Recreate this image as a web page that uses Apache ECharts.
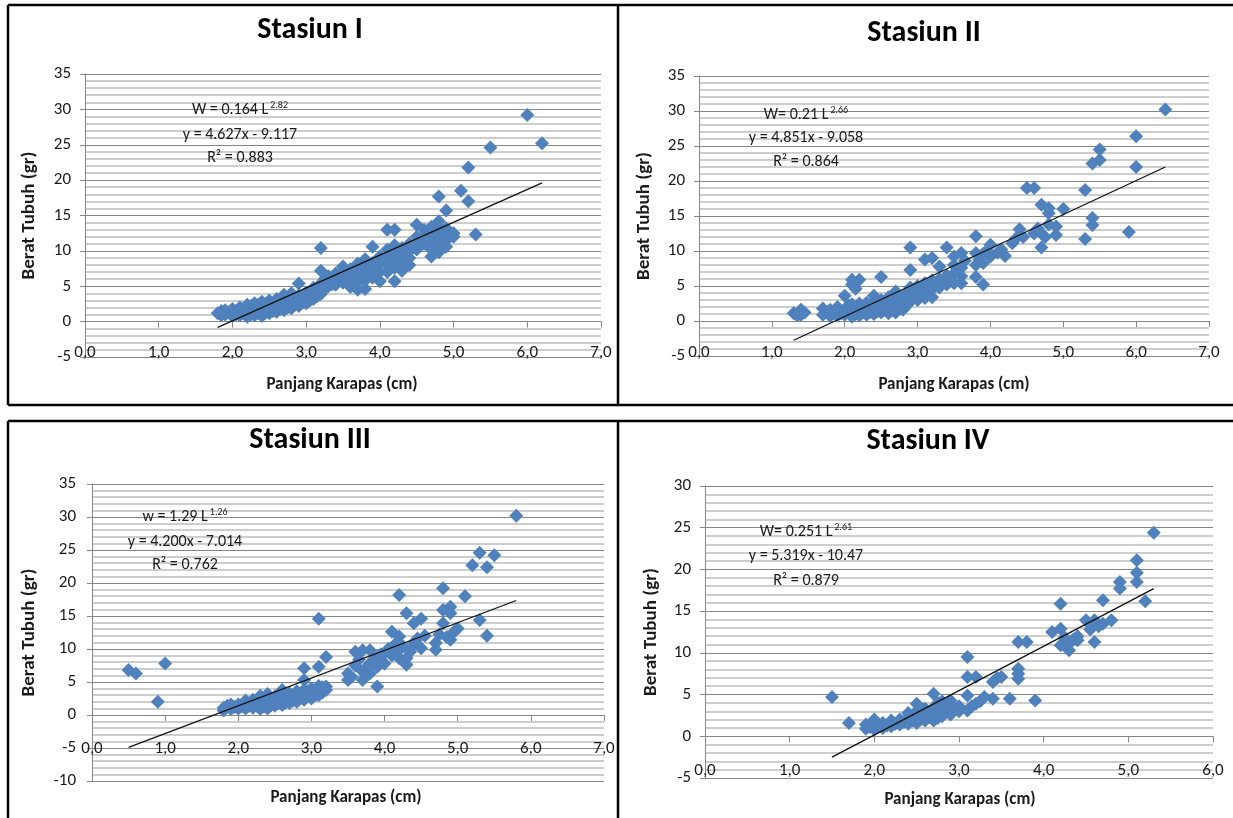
<!DOCTYPE html>
<html>
<head>
<meta charset="utf-8">
<script src="https://cdn.jsdelivr.net/npm/echarts@6/dist/echarts.min.js"></script>
<style>html,body{margin:0;padding:0;background:#fff}#c{width:1233px;height:818px}</style>
</head>
<body>
<div id="c"></div>
<script>
// ---------------- DATA ----------------
const titles = ['Stasiun I', 'Stasiun II', 'Stasiun III', 'Stasiun IV'];
const xAxisTitle = 'Panjang Karapas (cm)';
const yAxisTitle = 'Berat Tubuh (gr)';
const powerLabels = [['W = 0.164 L', '2.82'], ['W= 0.21 L', '2.66'], ['w = 1.29 L', '1.26'], ['W= 0.251 L', '2.61']];
const eqLabels = ['y = 4.627x - 9.117', 'y = 4.851x - 9.058', 'y = 4.200x - 7.014', 'y = 5.319x - 10.47'];
const r2Labels = ['R\u00B2 = 0.883', 'R\u00B2 = 0.864', 'R\u00B2 = 0.762', 'R\u00B2 = 0.879'];
const xRanges = [[0, 7], [0, 7], [0, 7], [0, 6]];
const yRanges = [[-5, 35], [-5, 35], [-10, 35], [-5, 30]];

const trend1 = [[1.8, -0.8], [6.2, 19.6]];
const trend2 = [[1.3, -2.75], [6.4, 22.0]];
const trend3 = [[0.5, -4.9], [5.8, 17.35]];
const trend4 = [[1.5, -2.5], [5.3, 17.7]];

const st1 = [[1.8,1.2],[1.85,0.9],[1.85,1.5],[1.9,1.0],[1.9,1.6],[1.95,1.3],[2.0,0.8],[2.0,1.2],[2.0,1.8],[2.05,1.0],[2.05,1.5],[2.1,0.9],[2.1,1.4],[2.1,2.0],[2.15,1.2],[2.15,1.8],[2.2,0.7],[2.2,1.3],[2.2,1.9],[2.2,2.4],[2.25,1.0],[2.25,1.6],[2.25,2.2],[2.3,0.9],[2.3,1.5],[2.3,2.0],[2.3,2.6],[2.35,1.2],[2.35,1.8],[2.35,2.4],[2.4,0.8],[2.4,1.4],[2.4,2.1],[2.4,2.8],[2.45,1.3],[2.45,1.9],[2.45,2.5],[2.5,1.2],[2.5,1.8],[2.5,2.4],[2.5,3.0],[2.55,1.5],[2.55,2.2],[2.6,1.4],[2.6,2.0],[2.6,2.6],[2.6,3.2],[2.65,1.8],[2.65,2.5],[2.7,1.6],[2.7,2.3],[2.7,3.0],[2.7,3.8],[2.75,2.0],[2.75,2.8],[2.8,1.9],[2.8,2.6],[2.8,3.4],[2.8,4.0],[2.85,2.4],[2.85,3.2],[2.9,2.2],[2.9,3.0],[2.9,3.7],[2.9,5.4],[2.95,2.7],[2.95,3.5],[3.0,2.6],[3.0,3.3],[3.0,4.1],[3.05,3.0],[3.05,3.8],[3.1,3.2],[3.1,4.0],[3.1,4.8],[3.15,3.6],[3.15,4.5],[3.2,3.9],[3.2,4.7],[3.2,5.4],[3.2,7.2],[3.2,10.4],[3.25,4.6],[3.25,6.0],[3.3,5.0],[3.3,5.7],[3.3,6.4],[3.35,5.3],[3.4,5.2],[3.4,6.0],[3.4,6.8],[3.45,5.8],[3.5,5.5],[3.5,6.3],[3.5,7.0],[3.5,7.8],[3.55,6.0],[3.6,4.9],[3.6,5.8],[3.6,6.6],[3.6,7.4],[3.65,5.2],[3.65,7.0],[3.7,4.5],[3.7,5.6],[3.7,6.8],[3.7,7.6],[3.7,8.2],[3.75,6.2],[3.8,4.6],[3.8,5.8],[3.8,7.0],[3.8,7.8],[3.8,8.8],[3.85,6.8],[3.9,6.2],[3.9,7.3],[3.9,8.3],[3.9,10.6],[3.95,7.8],[4.0,5.7],[4.0,7.0],[4.0,8.2],[4.0,9.2],[4.05,8.6],[4.1,7.0],[4.1,8.0],[4.1,9.0],[4.1,10.2],[4.1,13.0],[4.15,8.8],[4.2,5.7],[4.2,7.6],[4.2,8.6],[4.2,9.6],[4.2,10.8],[4.2,13.0],[4.25,9.0],[4.3,7.2],[4.3,8.4],[4.3,9.4],[4.3,10.4],[4.35,8.8],[4.4,8.0],[4.4,9.0],[4.4,10.0],[4.4,11.0],[4.45,10.5],[4.5,10.2],[4.5,11.2],[4.5,12.0],[4.5,13.7],[4.55,11.6],[4.6,11.0],[4.6,12.2],[4.6,13.0],[4.65,12.6],[4.7,9.2],[4.7,10.2],[4.7,11.2],[4.7,12.4],[4.7,13.4],[4.75,11.8],[4.75,13.0],[4.8,9.8],[4.8,10.8],[4.8,12.0],[4.8,13.2],[4.8,14.2],[4.8,17.7],[4.85,11.4],[4.85,12.8],[4.9,10.6],[4.9,11.8],[4.9,13.2],[4.9,15.7],[4.95,12.0],[5.0,12.0],[5.0,12.5],[5.1,18.5],[5.2,17.0],[5.2,21.8],[5.3,12.3],[5.5,24.6],[6.0,29.2],[6.2,25.2]];

const st2 = [[1.3,1.1],[1.35,0.8],[1.4,1.6],[1.4,0.9],[1.45,1.2],[1.7,1.8],[1.7,0.9],[1.75,1.3],[1.8,0.7],[1.8,1.6],[1.85,1.1],[1.9,0.8],[1.9,1.4],[1.9,2.0],[1.95,1.1],[2.0,0.9],[2.0,1.6],[2.0,3.6],[2.05,1.2],[2.05,2.2],[2.1,0.6],[2.1,1.5],[2.1,2.4],[2.1,5.2],[2.1,5.9],[2.15,1.0],[2.15,1.9],[2.15,4.6],[2.2,0.8],[2.2,1.5],[2.2,2.5],[2.2,5.9],[2.25,1.2],[2.25,2.0],[2.3,0.9],[2.3,1.6],[2.3,2.6],[2.35,1.3],[2.35,2.2],[2.4,1.0],[2.4,1.8],[2.4,2.8],[2.4,3.6],[2.45,1.4],[2.45,2.4],[2.5,1.2],[2.5,2.0],[2.5,3.0],[2.5,6.3],[2.55,1.6],[2.55,2.6],[2.6,1.1],[2.6,1.9],[2.6,2.8],[2.6,3.4],[2.65,1.5],[2.65,2.4],[2.7,1.2],[2.7,2.0],[2.7,3.0],[2.7,4.2],[2.75,1.8],[2.75,2.7],[2.8,1.6],[2.8,2.5],[2.8,3.4],[2.85,2.2],[2.85,3.0],[2.85,4.0],[2.9,2.8],[2.9,3.8],[2.9,4.8],[2.9,7.3],[2.9,10.5],[2.95,3.4],[3.0,3.0],[3.0,4.0],[3.0,5.0],[3.05,3.6],[3.05,4.6],[3.1,3.3],[3.1,4.2],[3.1,5.4],[3.1,8.8],[3.15,4.0],[3.2,3.4],[3.2,4.6],[3.2,5.8],[3.2,9.0],[3.25,5.0],[3.3,4.8],[3.3,6.0],[3.3,7.8],[3.35,5.6],[3.4,5.2],[3.4,6.5],[3.4,10.5],[3.45,6.2],[3.5,5.4],[3.5,6.8],[3.5,8.0],[3.5,9.2],[3.55,7.4],[3.6,5.4],[3.6,6.4],[3.6,7.6],[3.6,9.7],[3.65,8.6],[3.8,6.3],[3.8,8.0],[3.8,9.7],[3.8,12.1],[3.85,8.8],[3.9,5.2],[3.9,8.3],[3.9,9.6],[3.95,10.0],[4.0,9.2],[4.0,10.9],[4.1,9.8],[4.15,10.2],[4.2,9.3],[4.3,11.1],[4.35,11.8],[4.4,13.1],[4.45,12.0],[4.5,19.0],[4.6,19.0],[4.6,12.5],[4.65,13.2],[4.7,10.5],[4.7,12.5],[4.7,16.6],[4.75,12.0],[4.8,15.4],[4.8,16.1],[4.8,13.8],[4.9,12.3],[4.9,13.5],[5.0,16.0],[5.3,11.7],[5.3,18.7],[5.4,13.7],[5.4,14.7],[5.4,22.5],[5.5,23.0],[5.5,24.5],[5.9,12.7],[6.0,22.0],[6.0,26.4],[6.4,30.2]];

const st3 = [[0.5,6.8],[0.6,6.3],[0.9,2.0],[1.0,7.8],[1.8,0.7],[1.8,1.1],[1.85,1.4],[1.9,0.9],[1.9,1.6],[1.95,1.2],[2.0,1.0],[2.0,1.6],[2.05,1.3],[2.1,1.0],[2.1,1.8],[2.1,2.2],[2.15,1.4],[2.2,1.1],[2.2,1.7],[2.2,2.3],[2.25,1.4],[2.25,2.0],[2.3,0.9],[2.3,1.6],[2.3,2.4],[2.3,2.9],[2.35,1.3],[2.35,2.1],[2.4,1.0],[2.4,1.8],[2.4,2.6],[2.4,3.2],[2.45,1.5],[2.45,2.3],[2.5,1.4],[2.5,2.0],[2.5,2.8],[2.55,1.8],[2.55,2.5],[2.6,1.5],[2.6,2.2],[2.6,3.0],[2.6,3.8],[2.65,1.9],[2.65,2.7],[2.7,1.8],[2.7,2.5],[2.7,3.3],[2.75,2.2],[2.75,3.0],[2.8,2.0],[2.8,2.8],[2.8,3.6],[2.85,2.5],[2.85,3.3],[2.9,2.3],[2.9,3.0],[2.9,3.8],[2.9,5.3],[2.9,7.1],[2.95,2.8],[2.95,3.6],[3.0,2.5],[3.0,3.2],[3.0,4.0],[3.05,3.0],[3.05,3.8],[3.1,3.0],[3.1,3.6],[3.1,4.4],[3.1,7.3],[3.1,14.6],[3.15,3.4],[3.15,4.2],[3.2,3.8],[3.2,4.3],[3.2,8.8],[3.5,5.3],[3.5,6.3],[3.55,5.8],[3.6,9.6],[3.6,7.5],[3.65,8.4],[3.7,5.3],[3.7,6.6],[3.7,9.8],[3.75,7.2],[3.8,6.3],[3.8,7.8],[3.8,9.8],[3.85,8.4],[3.9,4.3],[3.9,7.3],[3.9,8.8],[3.95,9.2],[4.0,7.8],[4.0,9.4],[4.05,10.0],[4.1,9.0],[4.1,12.6],[4.15,10.8],[4.2,8.6],[4.2,9.8],[4.2,11.9],[4.2,18.2],[4.25,10.4],[4.3,7.6],[4.3,8.6],[4.3,15.4],[4.35,9.6],[4.4,10.9],[4.4,13.9],[4.45,11.6],[4.5,10.1],[4.5,14.6],[4.55,12.0],[4.7,9.9],[4.7,10.9],[4.75,12.2],[4.8,13.9],[4.8,15.9],[4.8,19.2],[4.85,11.8],[4.9,11.4],[4.9,15.4],[4.9,16.4],[4.95,12.6],[5.0,13.1],[5.1,18.0],[5.2,22.7],[5.3,14.4],[5.3,24.6],[5.4,12.0],[5.4,22.4],[5.5,24.2],[5.8,30.2]];

const st4 = [[1.5,4.7],[1.7,1.6],[1.9,0.9],[1.9,1.4],[1.95,1.1],[2.0,0.8],[2.0,1.5],[2.0,2.0],[2.05,1.2],[2.1,1.0],[2.1,1.6],[2.15,1.3],[2.2,1.2],[2.2,1.9],[2.25,1.5],[2.3,1.4],[2.3,2.0],[2.35,1.7],[2.4,1.5],[2.4,2.2],[2.4,2.8],[2.45,1.9],[2.45,2.5],[2.5,1.6],[2.5,2.3],[2.5,3.0],[2.5,3.9],[2.55,2.0],[2.55,2.7],[2.6,1.9],[2.6,2.6],[2.6,3.3],[2.65,2.3],[2.65,3.0],[2.7,1.9],[2.7,2.6],[2.7,3.4],[2.7,5.1],[2.75,2.2],[2.75,3.0],[2.75,4.0],[2.8,2.4],[2.8,3.2],[2.8,4.2],[2.85,2.9],[2.85,3.6],[2.9,2.6],[2.9,3.4],[2.9,4.3],[2.95,3.2],[3.0,3.0],[3.0,3.6],[3.1,3.1],[3.1,4.9],[3.1,7.1],[3.1,9.5],[3.15,3.6],[3.2,3.9],[3.2,7.1],[3.25,4.2],[3.3,4.7],[3.4,4.5],[3.4,6.5],[3.45,7.0],[3.5,7.1],[3.6,4.5],[3.7,6.9],[3.7,7.5],[3.7,8.1],[3.7,11.3],[3.8,11.3],[3.9,4.3],[4.1,12.5],[4.2,10.9],[4.2,12.9],[4.2,15.9],[4.25,11.8],[4.3,10.3],[4.3,11.1],[4.35,11.6],[4.4,11.5],[4.4,12.0],[4.5,13.9],[4.55,12.8],[4.6,11.3],[4.6,13.9],[4.65,13.2],[4.7,13.5],[4.7,16.3],[4.8,13.9],[4.9,17.7],[4.9,18.5],[5.1,18.5],[5.1,19.6],[5.1,21.1],[5.2,16.2],[5.3,24.4]];

const stations = [st1, st2, st3, st4];
const trends = [trend1, trend2, trend3, trend4];

// ---------------- LAYOUT / STYLE ----------------
const FF = "Carlito, 'Open Sans', 'Liberation Sans', sans-serif";
const grids = [
  {left: 85, top: 74, width: 516, height: 283},
  {left: 699, top: 76, width: 510, height: 280},
  {left: 92, top: 484, width: 512, height: 297},
  {left: 705, top: 486, width: 508, height: 292}
];
const yNameGap = [46, 45, 53, 44];
const yLabelMargin = [14, 14, 16, 14];
const xLabelMargin = [-13, -12, -41, -16];
const titlePos = [[310, 30], [924, 33], [310, 440], [928, 441]];
const xTitlePos = [[342, 385], [954, 385], [346, 798], [960, 800]];
const notePos = [[240, 110, 135, 158], [806, 115, 138, 162], [185, 517, 542, 565], [806, 532, 556, 581]];
const MARK = '#4F81BD';
const AXC = '#878787';

const chart = echarts.init(document.getElementById('c'), null, {renderer: 'canvas'});

const xAxes = [], yAxes = [], series = [], graphics = [];
for (let i = 0; i < 4; i++) {
  xAxes.push({
    type: 'value', gridIndex: i, min: xRanges[i][0], max: xRanges[i][1], interval: 1,
    axisLine: {show: true, onZero: true, lineStyle: {color: AXC, width: 1}},
    axisTick: {show: true, inside: false, length: 6, lineStyle: {color: AXC}},
    axisLabel: {margin: xLabelMargin[i], fontSize: 17, color: '#1a1a1a', fontFamily: FF,
      formatter: v => v.toFixed(1).replace('.', ',')},
    splitLine: {show: false}
  });
  yAxes.push({
    type: 'value', gridIndex: i, min: yRanges[i][0], max: yRanges[i][1], interval: 5,
    axisLine: {show: true, lineStyle: {color: AXC, width: 1}},
    axisTick: {show: true, inside: false, length: 5, lineStyle: {color: AXC}},
    axisLabel: {margin: yLabelMargin[i], fontSize: 17, color: '#1a1a1a', fontFamily: FF},
    splitLine: {show: true, lineStyle: {color: '#858585', width: 1}},
    minorTick: {show: false, splitNumber: 5},
    minorSplitLine: {show: true, lineStyle: {color: '#cdcdcd', width: 2}},
    name: yAxisTitle, nameLocation: 'middle', nameGap: yNameGap[i], nameRotate: 90,
    nameTextStyle: {fontSize: 19, fontWeight: 'bold', color: '#1a1a1a', fontFamily: FF}
  });
  series.push({
    type: 'scatter', xAxisIndex: i, yAxisIndex: i, data: stations[i],
    symbol: 'diamond', symbolSize: 14, itemStyle: {color: MARK, opacity: 1}, silent: true
  });
  series.push({
    type: 'line', xAxisIndex: i, yAxisIndex: i, data: trends[i], symbol: 'none',
    lineStyle: {color: '#111', width: 1.3}, silent: true, z: 5
  });
  graphics.push({type: 'text', x: titlePos[i][0], y: titlePos[i][1], z: 10,
    style: {text: titles[i], align: 'center', verticalAlign: 'middle',
      font: "bold 30px " + FF, fill: '#000'}});
  graphics.push({type: 'text', x: xTitlePos[i][0], y: xTitlePos[i][1], z: 10,
    style: {text: xAxisTitle, align: 'center', verticalAlign: 'middle',
      font: "bold 17px " + FF, fill: '#1a1a1a'}});
  const np = notePos[i];
  graphics.push({type: 'text', x: np[0], y: np[1], z: 10,
    style: {text: '{n|' + powerLabels[i][0] + '}{s|' + powerLabels[i][1] + '}', align: 'center', verticalAlign: 'middle',
      rich: {n: {fontSize: 16, fontFamily: FF, fill: '#1a1a1a', lineHeight: 20},
             s: {fontSize: 10, fontFamily: FF, fill: '#1a1a1a', verticalAlign: 'top', lineHeight: 20, padding: [0, 0, 8, 2]}}}});
  graphics.push({type: 'text', x: np[0], y: np[2], z: 10,
    style: {text: eqLabels[i], align: 'center', verticalAlign: 'middle', font: "16px " + FF, fill: '#1a1a1a'}});
  graphics.push({type: 'text', x: np[0], y: np[3], z: 10,
    style: {text: r2Labels[i], align: 'center', verticalAlign: 'middle', font: "16px " + FF, fill: '#1a1a1a'}});
}
// panel borders
const B = {stroke: '#000', lineWidth: 2.5};
[[8, 5, 1233, 5], [8, 5, 8, 405], [8, 405, 1233, 405], [618, 5, 618, 405],
 [8, 421, 1233, 421], [8, 421, 8, 818], [618, 421, 618, 818]].forEach(s => {
  graphics.push({type: 'line', shape: {x1: s[0], y1: s[1], x2: s[2], y2: s[3]}, style: B, z: 20, silent: true});
});

chart.setOption({
  backgroundColor: '#fff',
  animation: false,
  grid: grids,
  xAxis: xAxes,
  yAxis: yAxes,
  series: series,
  graphic: graphics
});
</script>
</body>
</html>
